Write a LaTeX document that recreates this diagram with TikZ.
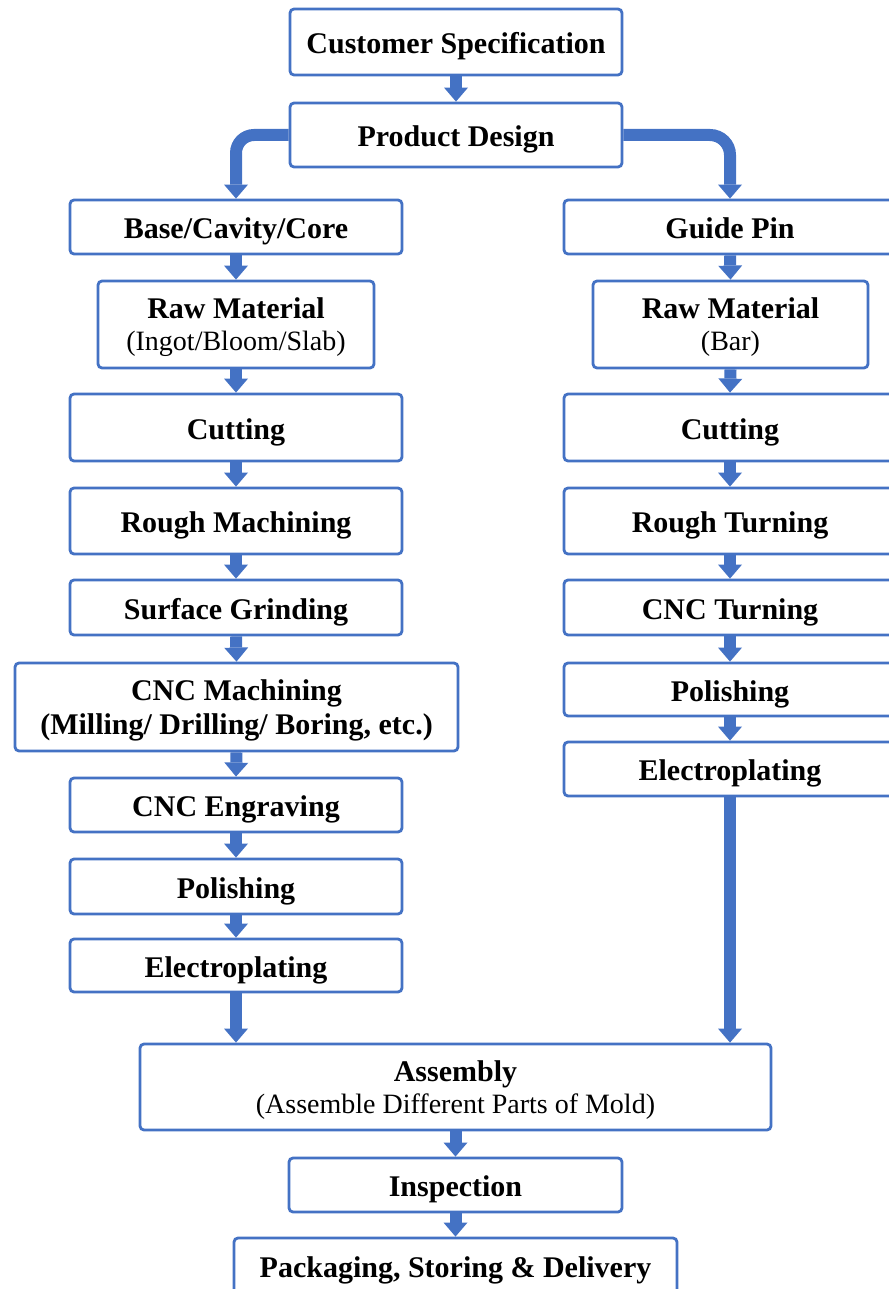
\documentclass[tikz,border=0pt]{standalone}
\usepackage{fontspec}
\setmainfont{Liberation Serif}
\usepackage{tikz}
\usetikzlibrary{arrows.meta}
\definecolor{boxblue}{HTML}{4472C4}
\definecolor{flowblue}{HTML}{4472C4}
\newcommand{\subtxt}[1]{{\fontsize{28}{32}\selectfont\mdseries #1}}
\tikzset{
  stagebox/.style={draw=boxblue,line width=2.8pt,rounded corners=4pt,fill=white,align=center,
    inner sep=0pt,minimum width=332pt,minimum height=54pt,text height=23pt,text depth=0pt,
    font=\fontsize{30}{32}\selectfont\bfseries},
  twoline/.style={text height={}},
  flowarrow/.style={draw=flowblue,line width=12pt,-{Triangle[width=24pt,length=14pt,line width=0pt]}}
}

\begin{document}
\begin{tikzpicture}[x=1pt,y=-1pt]
  \useasboundingbox (0,0) rectangle (888,1289);
  % top
  \node[stagebox,minimum height=66pt] (spec) at (456,42) {Customer Specification};
  \node[stagebox,minimum height=64pt] (design) at (456,135) {Product Design};
  % left branch: base, cavity and core
  \node[stagebox] (base) at (236,227) {Base/Cavity/Core};
  \node[stagebox,twoline,minimum width=276pt,minimum height=87pt] (rawL) at (236,324.5) {Raw Material\\\subtxt{(Ingot/Bloom/Slab)}};
  \node[stagebox,minimum height=67pt] (cutL) at (236,427.5) {Cutting};
  \node[stagebox,minimum height=66pt] (roughL) at (236,521) {Rough Machining};
  \node[stagebox,minimum height=55pt] (grindL) at (236,607.5) {Surface Grinding};
  \node[stagebox,twoline,minimum width=443pt,minimum height=88pt] (cncM) at (236.5,707) {CNC Machining\\[2pt](Milling/ Drilling/ Boring, etc.)};
  \node[stagebox] (engr) at (236,805) {CNC Engraving};
  \node[stagebox,minimum height=55pt] (polL) at (236,886.5) {Polishing};
  \node[stagebox,minimum height=53pt] (elecL) at (236,965.5) {Electroplating};
  % right branch: guide pin
  \node[stagebox] (guide) at (730,227) {Guide Pin};
  \node[stagebox,twoline,minimum width=275pt,minimum height=87pt] (rawR) at (730.5,324.5) {Raw Material\\\subtxt{(Bar)}};
  \node[stagebox,minimum height=67pt] (cutR) at (730,427.5) {Cutting};
  \node[stagebox,minimum height=66pt] (roughR) at (730,521) {Rough Turning};
  \node[stagebox,minimum height=55pt] (cncT) at (730,607.5) {CNC Turning};
  \node[stagebox,minimum height=53pt] (polR) at (730,689.5) {Polishing};
  \node[stagebox] (elecR) at (730,769) {Electroplating};
  % bottom
  \node[stagebox,twoline,minimum width=631pt,minimum height=86pt] (asm) at (455.5,1087) {Assembly\\\subtxt{(Assemble Different Parts of Mold)}};
  \node[stagebox,minimum width=333pt] (insp) at (455.5,1185) {Inspection};
  \node[stagebox,minimum width=443pt,minimum height=56pt] (pack) at (455.5,1266) {Packaging, Storing \& Delivery};

  \foreach \a/\b in {spec/design, base/rawL, rawL/cutL, cutL/roughL, roughL/grindL, grindL/cncM,
      cncM/engr, engr/polL, polL/elecL, guide/rawR, rawR/cutR, cutR/roughR, roughR/cncT,
      cncT/polR, polR/elecR, asm/insp, insp/pack}
    \draw[flowarrow] (\a.south) -- (\b.north);
  \draw[flowarrow,rounded corners=18pt] (design.west) -| (base.north);
  \draw[flowarrow,rounded corners=20pt] (design.east) -| (guide.north);
  \draw[flowarrow] (elecL.south) -- (elecL.south |- asm.north);
  \draw[flowarrow] (elecR.south) -- (elecR.south |- asm.north);
\end{tikzpicture}
\end{document}
